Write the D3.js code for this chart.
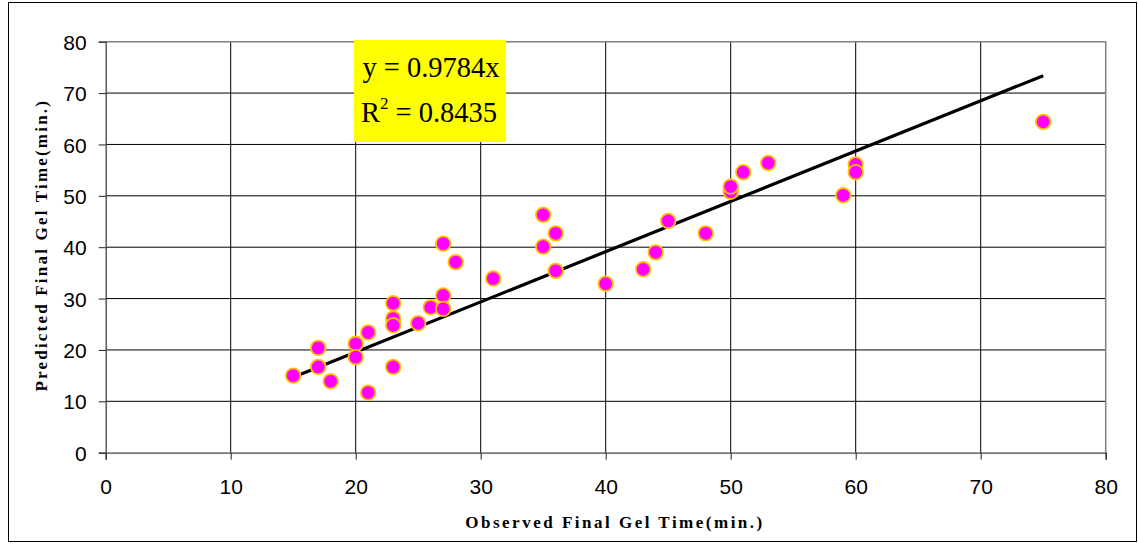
<!DOCTYPE html>
<html>
<head>
<meta charset="utf-8">
<script src="https://cdn.jsdelivr.net/npm/d3@7/dist/d3.min.js"></script>
<style>
  html, body { margin: 0; padding: 0; background: #fff; }
  svg { display: block; }
</style>
</head>
<body>
<svg id="chart" width="1138" height="544"></svg>
<script>
// Observed vs predicted final gel time (minutes)
const observed  = [15, 17, 17, 18, 20, 20, 21, 21, 23, 23, 23, 23, 25, 26, 27, 27, 27, 28, 31,
                   35, 36, 35, 36, 40, 43, 44, 45, 48, 50, 50, 51, 53, 59, 60, 60, 75];
const predicted = [15.0, 20.4, 16.7, 13.9, 21.2, 18.6, 23.4, 11.7, 29.1, 26.1, 24.8, 16.7, 25.2, 28.3, 40.7, 30.6, 28.0, 37.1, 33.9,
                   46.3, 42.7, 40.1, 35.4, 32.9, 35.7, 39.0, 45.1, 42.7, 50.8, 51.8, 54.6, 56.4, 50.1, 56.1, 54.6, 64.4];

const xTicks = [0, 10, 20, 30, 40, 50, 60, 70, 80];
const yTicks = [0, 10, 20, 30, 40, 50, 60, 70, 80];

// Trendline through the origin
const slope = 0.9784;
const rSquared = 0.8435;

const svg = d3.select("#chart");
const plot = { left: 105.7, right: 1105.7, top: 41.7, bottom: 452.7 };

// Outer frame
svg.append("rect")
  .attr("x", 8.5).attr("y", 2.5)
  .attr("width", 1128).attr("height", 539)
  .attr("fill", "#fff").attr("stroke", "#000").attr("stroke-width", 1);

const x = d3.scaleLinear().domain([0, 80]).range([plot.left, plot.right]);
const y = d3.scaleLinear().domain([0, 80]).range([plot.bottom, plot.top]);

// Gridlines
const grid = svg.append("g");
grid.selectAll("line.v").data(xTicks.slice(1, -1)).join("line")
  .attr("x1", d => x(d)).attr("x2", d => x(d))
  .attr("y1", plot.top).attr("y2", plot.bottom)
  .attr("stroke", "#000").attr("stroke-width", 1);
grid.selectAll("line.h").data(yTicks.slice(1, -1)).join("line")
  .attr("x1", plot.left).attr("x2", plot.right)
  .attr("y1", d => y(d)).attr("y2", d => y(d))
  .attr("stroke", "#000").attr("stroke-width", 1);

// Plot area border (top/right)
svg.append("path")
  .attr("d", `M${plot.left},${plot.top}H${plot.right}V${plot.bottom}`)
  .attr("fill", "none").attr("stroke", "#808080").attr("stroke-width", 1.5);

// Axes
const xAxis = svg.append("g")
  .attr("transform", `translate(0,${plot.bottom})`)
  .call(d3.axisBottom(x).tickValues(xTicks).tickSize(7).tickPadding(19));
const yAxis = svg.append("g")
  .attr("transform", `translate(${plot.left},0)`)
  .call(d3.axisLeft(y).tickValues(yTicks).tickSize(7).tickPadding(12));

[xAxis, yAxis].forEach(g => {
  g.select(".domain").attr("stroke", "#444").attr("stroke-width", 1.3);
  g.selectAll(".tick line").attr("stroke", "#222");
  g.selectAll(".tick text")
    .attr("font-family", "'Liberation Sans', Arial, sans-serif")
    .attr("font-size", 21).attr("fill", "#000");
});
yAxis.selectAll(".tick text").attr("dy", "0.36em");

// Trendline
const xMin = d3.min(observed), xMax = d3.max(observed);
svg.append("line")
  .attr("x1", x(xMin)).attr("y1", y(slope * xMin))
  .attr("x2", x(xMax)).attr("y2", y(slope * xMax))
  .attr("stroke", "#000").attr("stroke-width", 3.2);

// Data points
svg.append("g").selectAll("circle")
  .data(observed.map((o, i) => [o, predicted[i]]))
  .join("circle")
  .attr("cx", d => x(d[0])).attr("cy", d => y(d[1]))
  .attr("r", 7.3)
  .attr("fill", "#ff00ff")
  .attr("stroke", "#ffc000").attr("stroke-width", 1.8);

// Equation label
const eq = svg.append("g");
eq.append("rect")
  .attr("x", 354).attr("y", 40).attr("width", 152).attr("height", 102)
  .attr("fill", "#ffff00");
const eqFont = "'Liberation Serif', 'Times New Roman', serif";
eq.append("text")
  .attr("x", 431).attr("y", 77)
  .attr("text-anchor", "middle")
  .attr("font-family", eqFont).attr("font-size", 28.5)
  .text(`y = ${slope}x`);
const r2 = eq.append("text")
  .attr("x", 429).attr("y", 122)
  .attr("text-anchor", "middle")
  .attr("font-family", eqFont).attr("font-size", 28.5);
r2.append("tspan").text("R");
r2.append("tspan").attr("font-size", 17).attr("dy", -13).text("2");
r2.append("tspan").attr("dy", 13).text(` = ${rSquared}`);

// Axis titles
const titleFont = "'Liberation Serif', 'Times New Roman', serif";
svg.append("text")
  .attr("x", 615).attr("y", 528)
  .attr("text-anchor", "middle")
  .attr("font-family", titleFont).attr("font-weight", "bold")
  .attr("font-size", 17).attr("letter-spacing", 2.5)
  .text("Observed Final Gel Time(min.)");
svg.append("text")
  .attr("transform", `translate(47,${(plot.top + plot.bottom) / 2 - 2}) rotate(-90)`)
  .attr("text-anchor", "middle")
  .attr("font-family", titleFont).attr("font-weight", "bold")
  .attr("font-size", 17).attr("letter-spacing", 2.2)
  .text("Predicted Final Gel Time(min.)");
</script>
</body>
</html>
